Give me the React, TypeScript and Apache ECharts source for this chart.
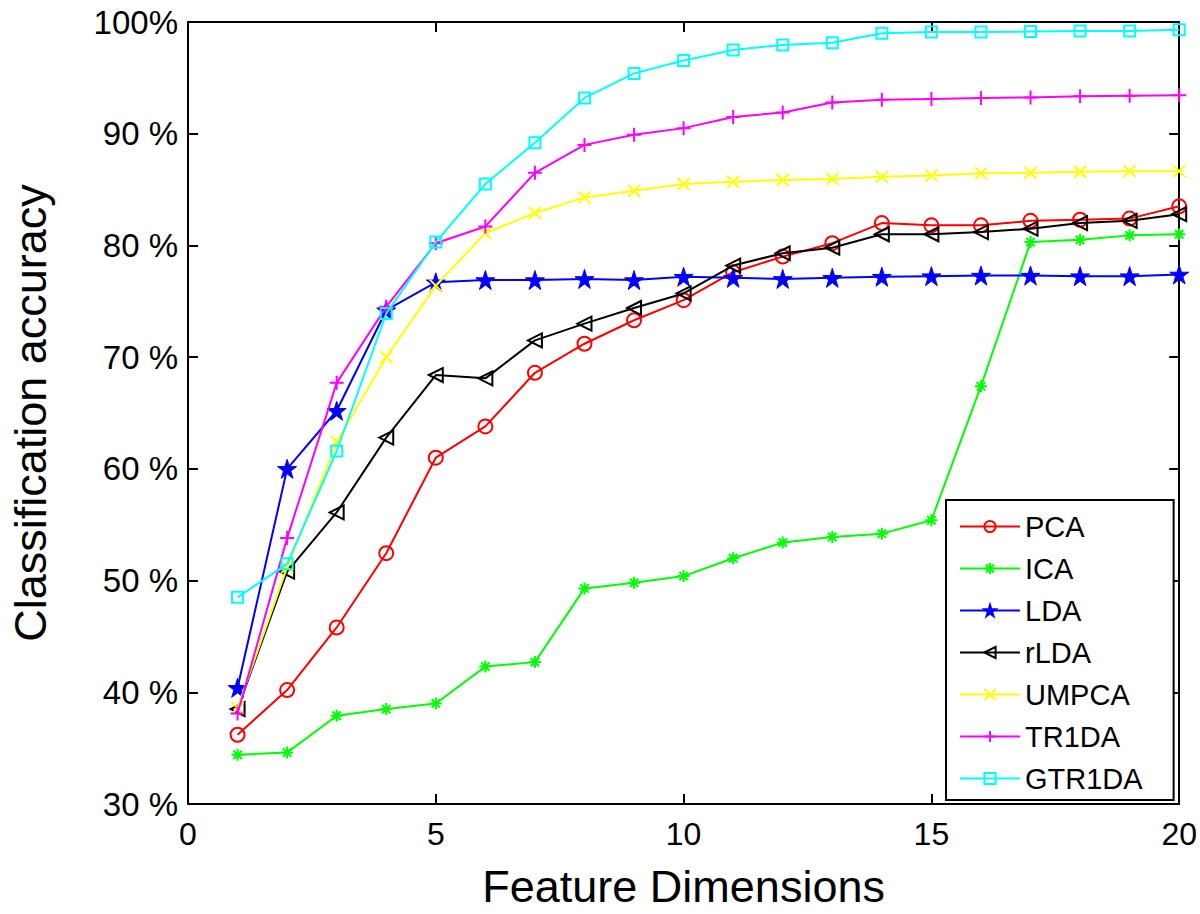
import { useEffect, useRef } from "react";
import * as echarts from "echarts";

const dims = [1, 2, 3, 4, 5, 6, 7, 8, 9, 10, 11, 12, 13, 14, 15, 16, 17, 18, 19, 20];

const pca = [36.2, 40.2, 45.8, 52.45, 61.0, 63.8, 68.6, 71.2, 73.3, 75.1, 77.6, 79.0, 80.2, 82.0, 81.8, 81.8, 82.2, 82.3, 82.4, 83.5];
const ica = [34.4, 34.6, 37.9, 38.5, 39.0, 42.3, 42.7, 49.3, 49.8, 50.4, 52.0, 53.4, 53.9, 54.2, 55.4, 67.4, 80.3, 80.5, 80.9, 81.0];
const lda = [40.4, 60.0, 65.2, 74.2, 76.7, 76.9, 76.9, 77.0, 76.9, 77.2, 77.1, 77.0, 77.1, 77.2, 77.25, 77.3, 77.3, 77.25, 77.25, 77.4];
const rlda = [38.5, 50.8, 56.1, 62.8, 68.4, 68.1, 71.5, 73.0, 74.4, 75.7, 78.2, 79.3, 79.8, 81.0, 81.0, 81.2, 81.5, 82.0, 82.2, 82.8];
const umpca = [38.6, 51.2, 62.4, 70.0, 76.4, 81.1, 82.9, 84.3, 84.9, 85.5, 85.7, 85.85, 85.95, 86.15, 86.25, 86.45, 86.5, 86.6, 86.65, 86.65];
const tr1da = [38.1, 53.8, 67.7, 74.5, 80.2, 81.7, 86.5, 89.0, 89.9, 90.5, 91.5, 91.9, 92.8, 93.05, 93.1, 93.2, 93.25, 93.35, 93.4, 93.45];
const gtr1da = [48.5, 51.5, 61.6, 73.9, 80.3, 85.5, 89.2, 93.2, 95.4, 96.55, 97.5, 97.95, 98.15, 99.0, 99.1, 99.1, 99.15, 99.2, 99.2, 99.3];

const names = ["PCA", "ICA", "LDA", "rLDA", "UMPCA", "TR1DA", "GTR1DA"];
const seriesValues = [pca, ica, lda, rlda, umpca, tr1da, gtr1da];
const colors = ["#ff0000", "#00ff00", "#0000ff", "#000000", "#ffff00", "#ff00ff", "#00ffff"];

const yTicks = [30, 40, 50, 60, 70, 80, 90, 100];

const SYM_CIRCLE = "path://M0,5a5,5 0 1,0 10,0a5,5 0 1,0 -10,0";
const SYM_ASTER = "path://M5,0L5,10M0,5L10,5M1.5,1.5L8.5,8.5M1.5,8.5L8.5,1.5";
const SYM_STAR =
  "path://M50,0L61.23,34.55L97.55,34.55L68.17,55.9L79.39,90.45L50,69.1L20.61,90.45L31.83,55.9L2.45,34.55L38.77,34.55Z";
const SYM_LTRI = "path://M0,5L10,0L10,10Z";
const SYM_X = "path://M0,0L10,10M0,10L10,0";
const SYM_PLUS = "path://M5,0L5,10M0,5L10,5";
const SYM_SQUARE = "path://M0,0L10,0L10,10L0,10Z";

const symbols = [SYM_CIRCLE, SYM_ASTER, SYM_STAR, SYM_LTRI, SYM_X, SYM_PLUS, SYM_SQUARE];
const symbolSizes = [14, 12, 19, 14, 12, 14, 11];
const filled = [false, false, true, false, false, false, false];

const FONT = "Liberation Sans, Arial, Helvetica, sans-serif";

export default function App() {
  const ref = useRef<HTMLDivElement>(null);
  useEffect(() => {
    document.body.style.margin = "0";
    const chart = echarts.init(ref.current!, null, { renderer: "svg" });
    const axisLineStyle = { color: "#000", width: 2 };
    const option: any = {
      animation: false,
      backgroundColor: "#fff",
      grid: { left: 181, top: 22, right: 20, bottom: 106, containLabel: false },
      xAxis: [
        {
          type: "value",
          min: 0,
          max: 20,
          interval: 5,
          position: "bottom",
          axisLine: { show: true, onZero: false, lineStyle: axisLineStyle },
          axisTick: { show: true, inside: true, length: 10, lineStyle: axisLineStyle },
          axisLabel: { fontSize: 32, color: "#000", fontFamily: FONT, margin: 14 },
          splitLine: { show: false },
          name: "Feature Dimensions",
          nameLocation: "middle",
          nameGap: 60,
          nameTextStyle: { fontSize: 45, color: "#000", fontFamily: FONT },
        },
        {
          type: "value",
          min: 0,
          max: 20,
          interval: 5,
          position: "top",
          axisLine: { show: true, onZero: false, lineStyle: axisLineStyle },
          axisTick: { show: true, inside: true, length: 10, lineStyle: axisLineStyle },
          axisLabel: { show: false },
          splitLine: { show: false },
        },
      ],
      yAxis: [
        {
          type: "value",
          min: yTicks[0],
          max: yTicks[yTicks.length - 1],
          interval: 10,
          position: "left",
          axisLine: { show: true, onZero: false, lineStyle: axisLineStyle },
          axisTick: { show: true, inside: true, length: 10, lineStyle: axisLineStyle },
          axisLabel: {
            fontSize: 33,
            color: "#000",
            fontFamily: FONT,
            margin: 10,
            formatter: (v: number) => (v === 100 ? "100%" : v + " %"),
          },
          splitLine: { show: false },
          name: "Classification accuracy",
          nameLocation: "middle",
          nameGap: 135,
          nameRotate: 90,
          nameTextStyle: { fontSize: 45, color: "#000", fontFamily: FONT },
        },
        {
          type: "value",
          min: yTicks[0],
          max: yTicks[yTicks.length - 1],
          interval: 10,
          position: "right",
          axisLine: { show: true, onZero: false, lineStyle: axisLineStyle },
          axisTick: { show: true, inside: true, length: 10, lineStyle: axisLineStyle },
          axisLabel: { show: false },
          splitLine: { show: false },
        },
      ],
      legend: {
        orient: "vertical",
        left: 946,
        top: 500,
        backgroundColor: "#fff",
        borderColor: "#000",
        borderWidth: 2,
        padding: [12, 31, 7, 13],
        itemWidth: 60,
        itemHeight: 14,
        itemGap: 13,
        textStyle: { fontSize: 29, color: "#000", fontFamily: FONT },
        data: names,
      },
      series: names.map((name, i) => ({
        name,
        type: "line",
        xAxisIndex: 0,
        yAxisIndex: 0,
        data: dims.map((d, j) => [d, seriesValues[i][j]]),
        symbol: symbols[i],
        symbolSize: symbolSizes[i],
        showSymbol: true,
        color: colors[i],
        lineStyle: { color: colors[i], width: 2 },
        itemStyle: {
          color: filled[i] ? colors[i] : "rgba(0,0,0,0)",
          borderColor: colors[i],
          borderWidth: filled[i] ? 1 : 2,
        },
        emphasis: { disabled: true },
        z: 2 + i,
      })),
    };
    chart.setOption(option);
    return () => chart.dispose();
  }, []);
  return <div ref={ref} style={{ width: 1200, height: 914 }} />;
}
